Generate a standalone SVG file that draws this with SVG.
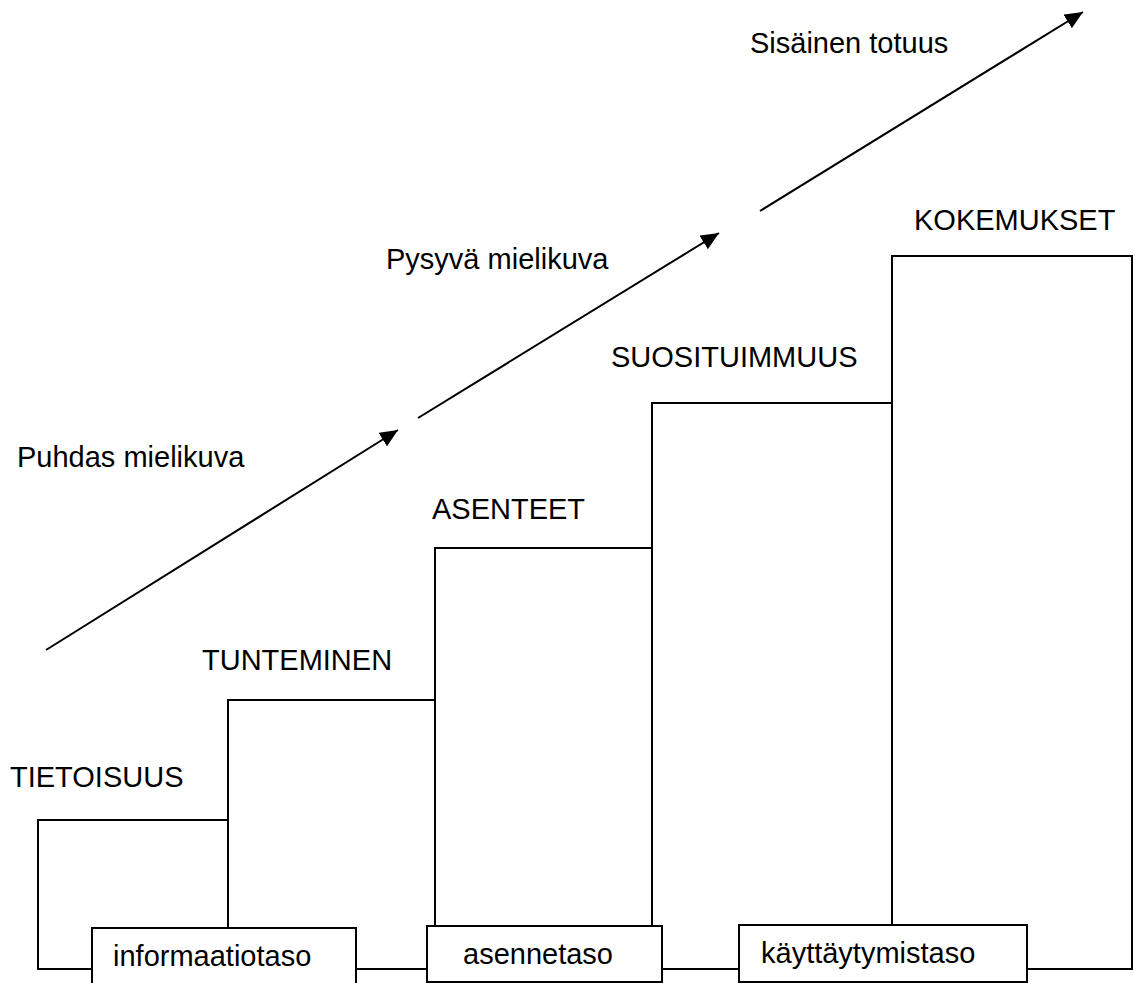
<svg xmlns="http://www.w3.org/2000/svg" width="1135" height="983" viewBox="0 0 1135 983">
<style>
.ln{fill:none;stroke:#000;stroke-width:2}
.bx{fill:#fff;stroke:#000;stroke-width:2}
.t{font-family:"Liberation Sans",Arial,sans-serif;font-size:29px;fill:#000}
</style>
<defs>
<marker id="ah" viewBox="0 0 10 10" refX="9" refY="5" markerWidth="9" markerHeight="8" markerUnits="userSpaceOnUse" orient="auto">
<path d="M0,0 L10,5 L0,10 z" fill="#000"/>
</marker>
<marker id="arr" viewBox="0 0 18 16" refX="18" refY="8" markerWidth="18" markerHeight="16" markerUnits="userSpaceOnUse" orient="auto">
<path d="M0,0 L18,8 L0,16 z" fill="#000"/>
</marker>
</defs>
<rect width="1135" height="983" fill="#fff"/>
<g id="stairs">
<path class="ln" d="M92,969 H38 V820 H228 V700 H435 V548 H652 V403 H892 V256 H1132 V969 H1027"/>
<path class="ln" d="M228,820 V928 M435,700 V926 M652,548 V926 M892,403 V925"/>
<path class="ln" d="M356,969 H427 M662,969 H739"/>
</g>
<g id="connectors">
<line class="ln" x1="46" y1="650" x2="398" y2="430" marker-end="url(#arr)"/>
<line class="ln" x1="418" y1="418" x2="719" y2="233" marker-end="url(#arr)"/>
<line class="ln" x1="760" y1="211" x2="1083" y2="12" marker-end="url(#arr)"/>
</g>
<g id="informaatiotaso">
<rect class="bx" x="92" y="928" width="264" height="62"/>
<text class="t" x="113" y="966">informaatiotaso</text>
</g>
<g id="asennetaso">
<rect class="bx" x="427" y="926" width="235" height="56"/>
<text class="t" x="463" y="964">asennetaso</text>
</g>
<g id="kayttaytymistaso">
<rect class="bx" x="739" y="925" width="288" height="57"/>
<text class="t" x="761" y="963">käyttäytymistaso</text>
</g>
<g id="labels">
<text class="t" x="10" y="787">TIETOISUUS</text>
<text class="t" x="202" y="670">TUNTEMINEN</text>
<text class="t" x="432" y="519">ASENTEET</text>
<text class="t" x="611" y="367">SUOSITUIMMUUS</text>
<text class="t" x="914" y="230">KOKEMUKSET</text>
<text class="t" x="17" y="467">Puhdas mielikuva</text>
<text class="t" x="386" y="269">Pysyvä mielikuva</text>
<text class="t" x="750" y="53">Sisäinen totuus</text>
</g>
</svg>
